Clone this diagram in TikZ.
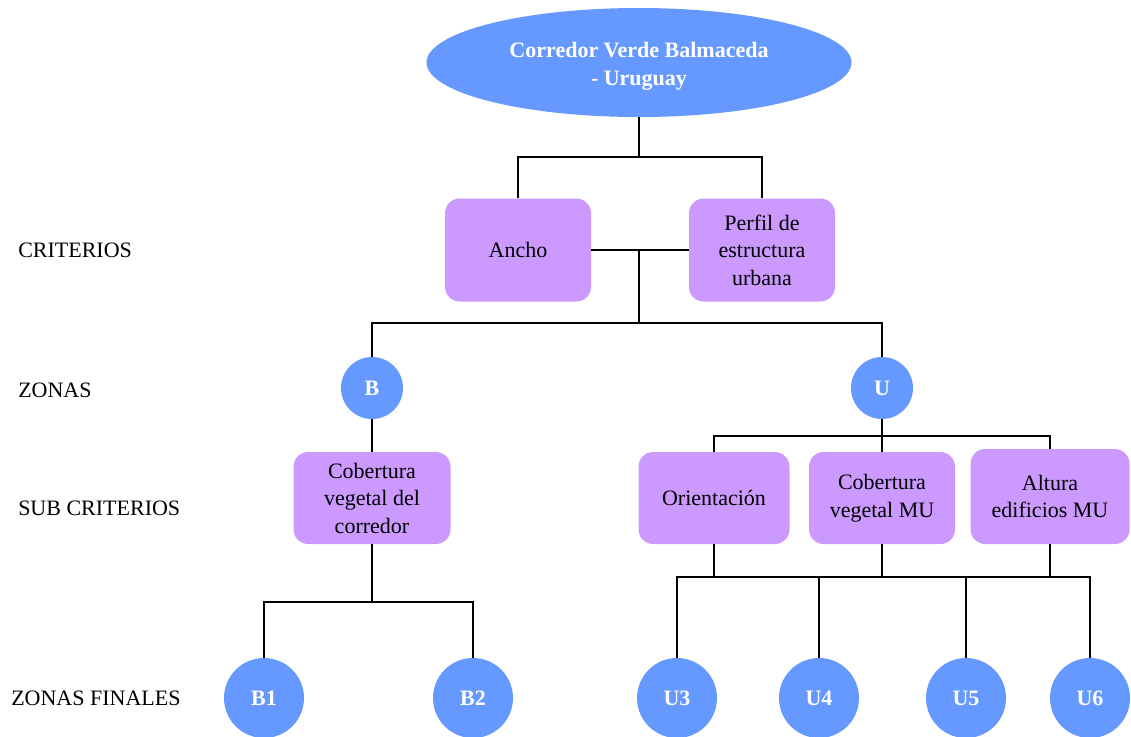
\documentclass[tikz,border=0pt]{standalone}
\usepackage{fontspec}
\setmainfont{Liberation Serif}
\usetikzlibrary{shapes.geometric}
\definecolor{blueN}{HTML}{6699FF}
\definecolor{purpN}{HTML}{CC99FF}
\tikzset{
  txt/.style={font=\fontsize{16.5}{20.6}\selectfont},
  btxt/.style={font=\fontsize{16.5}{21}\selectfont\bfseries, text=white},
  boxp/.style={txt, fill=purpN, rounded corners=11pt, align=center, inner sep=0pt},
  circ/.style={btxt, circle, fill=blueN, inner sep=0pt},
  smallc/.style={circ, minimum size=46.5pt},
  bigc/.style={circ, minimum size=60pt},
  lvl/.style={txt, anchor=base west, inner sep=0pt},
  conn/.style={line width=1pt, black}
}
\begin{document}
\begin{tikzpicture}[x=0.75pt,y=-0.75pt]
\useasboundingbox (0,0) rectangle (1131,736);
\clip (0,0) rectangle (1131,736);
% top ellipse
\node[ellipse, fill=blueN, minimum width=318.75pt, minimum height=81.75pt, inner sep=0pt] (top) at (639,62.5) {};
\node[btxt, align=center, inner sep=0pt] (toptxt) at (639,66.5) {Corredor Verde Balmaceda\\- Uruguay};
% criteria
\node[boxp, minimum width=109.5pt, minimum height=77.25pt] (ancho) at (518,250) {Ancho};
\node[boxp, minimum width=109.5pt, minimum height=77.25pt] (perfil) at (762,250) {Perfil de\\estructura\\urbana};
% zones
\node[smallc] (B) at (372,388) {B};
\node[smallc] (U) at (882,388) {U};
% sub criteria
\node[boxp, minimum width=117.75pt, minimum height=69pt] (cobB) at (372,498) {Cobertura\\vegetal del\\corredor};
\node[boxp, minimum width=113.25pt, minimum height=69pt] (ori) at (714,498) {Orientación};
\node[boxp, minimum width=109.5pt, minimum height=69pt] (cobMU) at (882,498) {Cobertura\\vegetal MU};
\node[boxp, minimum width=119.25pt, minimum height=71.25pt] (alt) at (1050,496.5) {Altura\\edificios MU};
% final zones
\node[bigc] (B1) at (264,698) {B1};
\node[bigc] (B2) at (473,698) {B2};
\node[bigc] (U3) at (677,698) {U3};
\node[bigc] (U4) at (819,698) {U4};
\node[bigc] (U5) at (966,698) {U5};
\node[bigc] (U6) at (1090,698) {U6};
% level labels
\node[lvl] (l1) at (18,257) {CRITERIOS};
\node[lvl] (l2) at (18,397) {ZONAS};
\node[lvl] (l3) at (18,515) {SUB CRITERIOS};
\node[lvl] (l4) at (11,705) {ZONAS FINALES};
% junctions
\coordinate (j1) at (639,157);
\coordinate (j2) at (639,250);
\coordinate (j3) at (639,323);
\coordinate (j4) at (882,436);
\coordinate (j5) at (372,602);
\coordinate (j6) at (882,577);
% connectors
\draw[conn] (top.south) -- (j1);
\draw[conn] (ancho.north) |- (j1) -| (perfil.north);
\draw[conn] (ancho.east) -- (perfil.west);
\draw[conn] (j2) -- (j3);
\draw[conn] (B.north) |- (j3) -| (U.north);
\draw[conn] (B.south) -- (cobB.north);
\draw[conn] (U.south) -- (j4);
\draw[conn] (ori.north) |- (j4) -| (alt.north);
\draw[conn] (j4) -- (cobMU.north);
\draw[conn] (cobB.south) -- (j5);
\draw[conn] (B1.north) |- (j5) -| (B2.north);
\draw[conn] (cobMU.south) -- (j6);
\draw[conn] (ori.south) |- (j6) -| (alt.south);
\draw[conn] (U3.north) |- (j6) -| (U6.north);
\draw[conn] (U4.north) -- (U4.north |- j6);
\draw[conn] (U5.north) -- (U5.north |- j6);
\end{tikzpicture}
\end{document}
